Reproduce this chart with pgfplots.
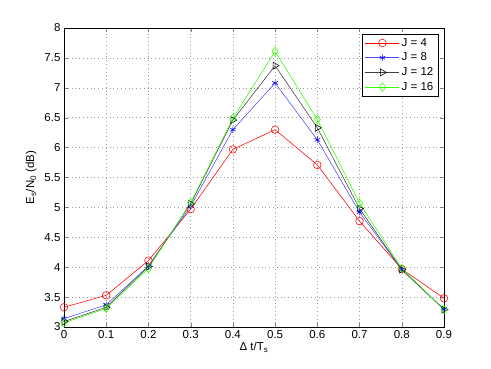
\documentclass[border=0pt]{standalone}
\usepackage{pgfplots}
\pgfplotsset{compat=1.18}
\usepackage{fontspec}
\setmainfont{Liberation Sans}

\pgfplotstableread{
x     j4    j8    j12   j16
0.0   3.33  3.14  3.09  3.07
0.1   3.53  3.37  3.33  3.31
0.2   4.11  4.02  4.01  3.98
0.3   4.97  5.02  5.06  5.08
0.4   5.97  6.30  6.46  6.49
0.5   6.30  7.08  7.37  7.61
0.6   5.71  6.13  6.33  6.47
0.7   4.77  4.92  4.98  5.07
0.8   3.97  3.96  3.96  3.98
0.9   3.48  3.30  3.29  3.29
}\datatab

\begin{document}
\begin{tikzpicture}[x=1pt,y=1pt]
\path (-64,-42) rectangle (427,327);
\begin{axis}[
  at={(0,0)}, anchor=south west,
  scale only axis,
  width=380pt, height=299pt,
  xmin=0, xmax=0.9, ymin=3, ymax=8,
  xtick={0,0.1,...,0.9},
  ytick={3,3.5,...,8},
  /pgf/number format/assume math mode=true,
  /pgf/number format/fixed,
  xticklabel style={/pgf/number format/precision=1},
  tick align=inside,
  tick pos=both,
  major tick length=4pt,
  grid=major,
  grid style={dash pattern=on 0.8pt off 3pt, line width=0.5pt, draw=black!40},
  axis line style={line width=0.6pt},
  font=\fontsize{11.5}{13}\selectfont,
  ticklabel style={font=\fontsize{11.5}{13}\selectfont},
  xlabel={Δ t/T\textsubscript{s}},
  ylabel={E\textsubscript{s}/N\textsubscript{0} (dB)},
  xlabel style={yshift=3pt},
  ylabel style={yshift=1pt},
  legend style={at={(0.986,0.98)}, anchor=north east, draw=black,
    line width=0.6pt, font=\fontsize{11.5}{13}\selectfont,
    inner xsep=3pt, inner ysep=2pt, row sep=1.2pt},
  legend cell align=left,
  legend image code/.code={
    \draw[mark repeat=2, mark phase=2] plot coordinates {(0pt,0pt) (17pt,0pt) (34pt,0pt)};
  },
  every axis plot/.append style={line width=0.55pt, mark size=3.8pt},
]
\addplot[color=red, mark=o] table[x=x, y=j4] {\datatab};
\addlegendentry{J = 4}
\addplot[color=blue!70, mark=asterisk, mark options={color=blue, mark size=3.2pt}] table[x=x, y=j8] {\datatab};
\addlegendentry{J = 8}
\addplot[color=black!75, mark=triangle, mark options={rotate=-90, color=black, mark size=4pt}] table[x=x, y=j12] {\datatab};
\addlegendentry{J = 12}
\addplot[color=green!80!yellow, mark=diamond, mark options={mark size=4.2pt}] table[x=x, y=j16] {\datatab};
\addlegendentry{J = 16}
\end{axis}
\end{tikzpicture}
\end{document}
